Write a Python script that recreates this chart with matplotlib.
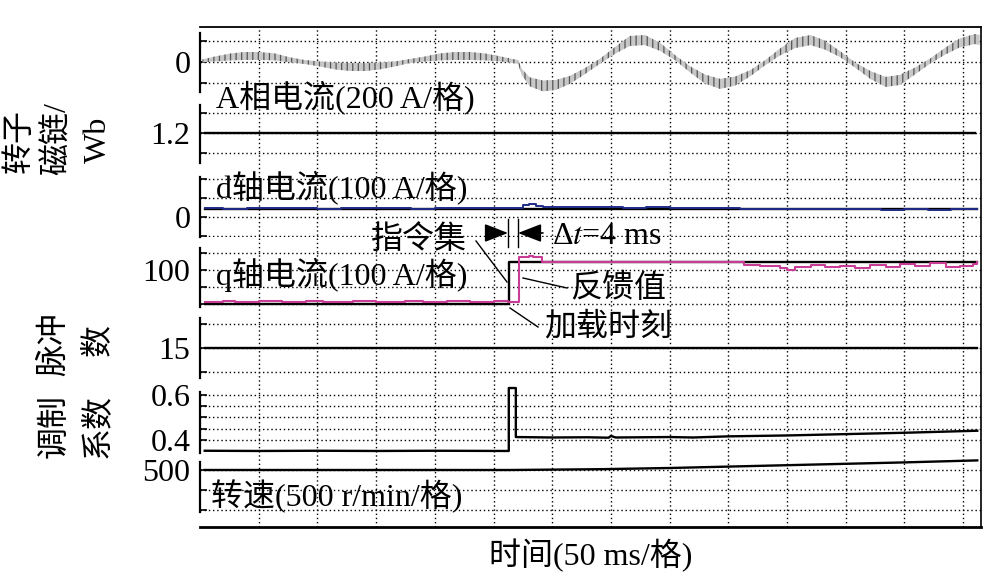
import matplotlib
matplotlib.use('Agg')
import matplotlib.pyplot as plt

plt.rcParams['font.family'] = ['Liberation Serif', 'Noto Sans CJK SC']
plt.rcParams['mathtext.fontset'] = 'stix'
plt.rcParams['hatch.linewidth'] = 0.9

# ---------------- data ----------------
T_MAX = 665.2                      # ms shown across the frame
GRID_T = [50, 100, 150, 200, 250, 300, 350, 400, 450, 500, 550, 600, 650]

# A-phase current (A): slow centre value and ripple half-amplitude
t_ia = [2, 13, 26, 38, 51, 64, 77, 89, 102, 115, 128, 141, 153, 166, 179, 192, 204, 217,
        230, 243, 256, 266, 271, 274, 281, 292, 303, 315, 328, 341, 354, 366, 379, 392,
        405, 417, 430, 443, 456, 469, 481, 494, 507, 520, 532, 545, 558, 571, 584, 596,
        609, 622, 635, 647, 660, 664]
ia_centre = [10, 29, 48, 57, 57, 48, 19, 0, -19, -38, -48, -48, -38, -19, 10, 29, 48, 57,
             57, 48, 29, 10, 0, -95, -190, -228, -219, -171, -86, 10, 114, 200, 209, 143,
             38, -67, -162, -209, -181, -105, -10, 95, 181, 209, 162, 76, -29, -124, -190, -171,
             -86, 10, 105, 181, 219, 209]
ia_ripple = [14, 24, 33, 38, 38, 33, 24, 19, 24, 33, 38, 38, 33, 24, 19, 24, 33, 38,
             38, 33, 24, 19, 19, 29, 43, 52, 48, 38, 29, 24, 33, 48, 48, 38,
             24, 29, 43, 48, 43, 29, 24, 33, 48, 48, 43, 29, 24, 38, 48, 48,
             33, 24, 33, 43, 48, 48]

# rotor flux (Wb)
t_flux = [4, 660]
flux = [1.2, 1.2]

# d-axis current (A)
t_id_ref = [4, 662]
id_ref = [43, 43]
t_id = [4, 20, 40, 60, 80, 100, 120, 140, 160, 180, 200, 220, 240, 260, 268, 275, 280, 286,
        292, 300, 320, 340, 360, 380, 400, 420, 440, 460, 480, 500, 520, 540, 560, 580,
        600, 620, 640, 662]
id_fb = [46, 44, 47, 45, 47, 44, 46, 45, 47, 44, 46, 45, 47, 45, 47, 62, 68, 60,
         52, 55, 50, 54, 49, 51, 47, 49, 45, 43, 44, 41, 43, 40, 42, 38,
         41, 39, 42, 40]

# q-axis current (A)
t_iq_cmd = [4, 263, 263, 662]
iq_cmd = [-100, -100, 147, 147]
t_iq = [4, 20, 30, 50, 70, 90, 105, 130, 150, 175, 190, 210, 230, 250, 262, 272, 280, 284,
        291, 300, 350, 400, 463, 477, 494, 500, 507, 520, 532, 545, 558, 571, 584, 596,
        609, 622, 635, 647, 658, 662]
iq_fb = [-88, -80, -88, -84, -88, -80, -88, -84, -88, -80, -88, -84, -88, -80, -88, 176, 182, 176,
         150, 147, 147, 147, 129, 124, 112, 100, 118, 129, 118, 124, 112, 129, 118, 135,
         124, 141, 118, 124, 135, 147]

# pulse number
t_pulse = [4, 662]
pulse = [15, 15]

# modulation index
t_mod = [4, 50, 100, 150, 200, 263, 263, 269, 269, 300, 330, 348, 350, 354, 400, 420, 450,
         500, 550, 600, 662]
mod = [0.352, 0.351, 0.352, 0.351, 0.352, 0.351, 0.631, 0.631, 0.413, 0.411, 0.412, 0.410,
       0.418, 0.411, 0.413, 0.411, 0.416, 0.420, 0.426, 0.432, 0.441]

# speed (r/min)
t_spd = [4, 264, 341, 400, 500, 600, 662]
spd = [500, 500, 520, 550, 620, 690, 740]

# ---------------- figure ----------------
W, H = 983, 576
FS = 23
fig = plt.figure(figsize=(W / 100, H / 100), dpi=100)
X0, X1, YT, YB = 200, 981, 27, 527


def fx(px):
    return px / W


def fy(py):
    return 1 - py / H


DOT = (0, (1, 2))

bg = fig.add_axes([fx(X0), fy(YB), fx(X1) - fx(X0), fy(YT) - fy(YB)])
bg.set_xlim(0, T_MAX)
bg.set_ylim(0, 1)
bg.set_xticks(GRID_T)
bg.set_yticks([])
bg.tick_params(axis='x', length=0, labelbottom=False)
bg.xaxis.grid(True, linestyle=DOT, color='k', linewidth=1.0)
bg.spines['left'].set_visible(False)
bg.spines['top'].set_linewidth(1.3)
bg.spines['bottom'].set_linewidth(2.0)
bg.spines['right'].set_linewidth(1.2)
bg.set_facecolor('white')


def panel(ptop, pbot, ylim, ticks, labels):
    ax = fig.add_axes([fx(X0), fy(pbot), fx(X1) - fx(X0), fy(ptop) - fy(pbot)])
    ax.set_facecolor('none')
    ax.set_xlim(0, T_MAX)
    ax.set_ylim(*ylim)
    for s in ['top', 'right', 'bottom']:
        ax.spines[s].set_visible(False)
    ax.spines['left'].set_linewidth(1.6)
    ax.set_xticks([])
    ax.set_yticks(ticks)
    ax.set_yticklabels(labels)
    ax.tick_params(axis='y', direction='in', length=5, width=1.2, pad=7, labelsize=FS)
    ax.yaxis.grid(True, linestyle=DOT, color='k', linewidth=1.0)
    return ax


LW = 1.7
# panel 1: A-phase current
a1 = panel(33, 92, (-286, 276), [200, 0, -200], ['', '0', ''])
lo = [c - r for c, r in zip(ia_centre, ia_ripple)]
hi = [c + r for c, r in zip(ia_centre, ia_ripple)]
a1.fill_between(t_ia, lo, hi, facecolor='#c8c8c8', edgecolor='#555555', hatch='|||',
                linewidth=0, clip_on=False, zorder=3)

# panel 2: flux
a2 = panel(105, 163, (1.05, 1.34), [1.3, 1.2, 1.1], ['', '1.2', ''])
a2.plot(t_flux, flux, color='k', lw=LW, zorder=3)

# panel 3: d current
a3 = panel(177, 237, (-105.3, 210.5), [200, 100, 0, -100], ['', '', '0', ''])
a3.plot(t_id_ref, id_ref, color='k', lw=LW, zorder=3)
a3.plot(t_id, id_fb, color='#1f2b86', lw=1.4, drawstyle='steps-post', zorder=4)

# panel 4: q current
a4 = panel(248, 307, (-117.6, 229.4), [200, 100, 0, -100], ['', '100', '', ''])
a4.plot(t_iq_cmd, iq_cmd, color='k', lw=LW, zorder=3, clip_on=False)
a4.plot(t_iq, iq_fb, color='#c83c96', lw=1.5, drawstyle='steps-post', zorder=4, clip_on=False)

# panel 5: pulse number
a5 = panel(318, 378, (8.62, 21.38), [20, 15, 10], ['', '15', ''])
a5.plot(t_pulse, pulse, color='k', lw=LW, zorder=3)

# panel 6: modulation index
a6 = panel(392, 453, (0.342, 0.6133), [0.6, 0.55, 0.5, 0.45, 0.4], ['0.6', '', '', '', '0.4'])
a6.plot(t_mod, mod, color='k', lw=LW, zorder=3, clip_on=False)

# panel 7: speed
a7 = panel(462, 512, (-550, 700), [500, 0, -500], ['500', '', ''])
a7.plot(t_spd, spd, color='k', lw=LW, zorder=3, clip_on=False)

# ---------------- annotations (pixel overlay) ----------------
ov = fig.add_axes([0, 0, 1, 1])
ov.set_xlim(0, W)
ov.set_ylim(H, 0)
ov.axis('off')
ov.set_zorder(10)


def txt(x, y, s, **kw):
    kw.setdefault('ha', 'left')
    kw.setdefault('va', 'center')
    kw.setdefault('fontsize', FS)
    ov.text(x, y, s, **kw)


txt(216, 97, 'A相电流(200 A/格)')
txt(216, 187, 'd轴电流(100 A/格)')
txt(216, 275, 'q轴电流(100 A/格)')
txt(211, 496, '转速(500 r/min/格)')
txt(370, 240, '指令集')
txt(552, 236, r'Δ$t$=4 ms')
txt(570, 289, '反馈值')
txt(544, 328, '加载时刻')
txt(591, 555, '时间(50 ms/格)', ha='center')

# rotated axis titles, one column each
for (x, y, s) in [(20, 141, '转子'), (58, 139, '磁链/'), (98, 140, 'Wb'),
                  (54, 344, '脉冲'), (99, 340, '数'),
                  (55, 426, '调制'), (99, 426, '系数')]:
    txt(x, y, s, ha='center', rotation=90)

# leader lines
for (xa, ya, xb, yb) in [(476, 241, 507, 282), (523, 278, 567, 288), (510, 308, 538, 327)]:
    ov.plot([xa, xb], [ya, yb], color='k', lw=1.0)
# delta-t markers
for xv in (508, 518):
    ov.plot([xv, xv], [219, 247], color='k', lw=1.0)
for (xs, xe) in [(487, 508), (543, 518)]:
    ov.annotate('', xy=(xe, 233), xytext=(xs, 233),
                arrowprops=dict(arrowstyle='-|>,head_length=0.9,head_width=0.35', color='k',
                                lw=1.2, mutation_scale=16, shrinkA=0, shrinkB=0))

fig.savefig('out.png', dpi=100)
